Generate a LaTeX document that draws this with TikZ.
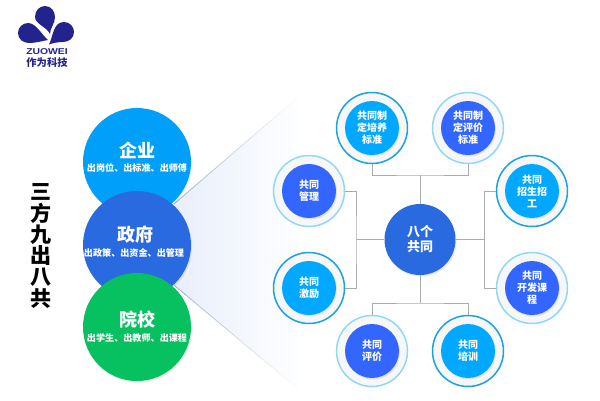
\documentclass[tikz,border=0pt]{standalone}
\usepackage{fontspec}
\usepackage{xcolor}
\usepackage{tikz}
\usetikzlibrary{shadows}
\setmainfont{Noto Sans CJK SC}
\newfontfamily\latinfont{Liberation Sans}
\definecolor{logoC}{HTML}{23238E}
\definecolor{firmC}{HTML}{00A0FA}
\definecolor{govC}{HTML}{2A6AE0}
\definecolor{schoolC}{HTML}{07C160}
\definecolor{skyC}{HTML}{00A8FF}
\definecolor{royalC}{HTML}{3366FF}
\definecolor{ringD}{HTML}{1BA1E6}
\definecolor{ringL}{HTML}{8FD8F8}
\definecolor{wedgeC}{HTML}{E8EEFC}
\definecolor{edgeC}{HTML}{98A6C0}
\definecolor{connC}{HTML}{ABABAB}
\newcommand{\fsize}[1]{\fontsize{#1}{#1}\selectfont}
\begin{document}
\begin{tikzpicture}[
  x=1pt, y=-1pt,
  softS/.style={drop shadow={opacity=0.18, shadow xshift=1pt, shadow yshift=-1.5pt}},
  bigC/.style={circle, minimum size=108pt, inner sep=0pt, softS},
  ringB/.style={circle, fill=black!3, line width=1.5pt, minimum size=71pt, inner sep=0pt},
  dotB/.style={circle, minimum size=54pt, inner sep=0pt, align=center, text=white, softS, font=\fsize{10}\linespread{1.2}\bfseries},
  conn/.style={draw=connC, line width=0.8pt},
  bigT/.style={text=white, font=\fsize{18}\bfseries, inner sep=0pt},
  subT/.style={text=white, font=\fsize{9.1}\bfseries, inner sep=0pt}
]
\useasboundingbox (0,0) rectangle (600,400);
% logo
\fill[logoC] (50,34) .. controls (47,27) and (35,24) .. (35,17) .. controls (35,10) and (40,6) .. (45,6) .. controls (51,6) and (55,11) .. (55,17) .. controls (55,24) and (50,28) .. (50,34);
\fill[logoC] (48,40) .. controls (42,35) and (36,23) .. (28,23) .. controls (22,23) and (18,28) .. (18,33) .. controls (18,39) and (23,43) .. (29,43) .. controls (36,43) and (42,41) .. (48,40);
\fill[logoC] (49,44.5) .. controls (53,37) and (53,22) .. (64,22) .. controls (70,22) and (74,27) .. (74,32) .. controls (74,38) and (69,42) .. (63,42) .. controls (58,42) and (53,43) .. (49,44.5);
\node[text=logoC, font=\latinfont\fsize{8.5}\bfseries, xscale=1.22, inner sep=0pt] (logoEn) at (47,52) {ZUOWEI};
\node[text=logoC, font=\fsize{10.3}\bfseries, inner sep=0pt] (logoCn) at (47,63) {作为科技};
% wedge, in strips
\foreach \x in {174,176,...,302}{
  \pgfmathsetmacro{\xb}{\x+3}
  \pgfmathsetmacro{\ya}{204-(\x-174)*0.86}
  \pgfmathsetmacro{\yb}{204-(\xb-174)*0.86}
  \pgfmathsetmacro{\yc}{285+(\xb-174)*0.837}
  \pgfmathsetmacro{\yd}{285+(\x-174)*0.837}
  \pgfmathsetmacro{\pw}{max(0,100-(\x-174)*0.78)}
  \pgfmathsetmacro{\pe}{max(0,85-(\x-174)*0.68)}
  \fill[wedgeC!\pw!white] (\x,\ya) -- (\xb,\yb) -- (\xb,\yc) -- (\x,\yd) -- cycle;
  \draw[edgeC!\pe!white, line width=0.8pt] (\x,\ya) -- (\xb,\yb);
  \draw[edgeC!\pe!white, line width=0.8pt] (\x,\yd) -- (\xb,\yc);
}
% title
\node[align=center, font=\fsize{21}\bfseries, inner sep=0pt, text=black] (title) at (41,246) {三\\[0.3pt]方\\[0.3pt]九\\[0.3pt]出\\[0.3pt]八\\[0.3pt]共};
% three parties
\node[bigC, fill=firmC] (firm) at (137,162) {};
\node[bigC, fill=govC] (gov) at (137,245) {};
\node[bigC, fill=schoolC] (school) at (137,327) {};
\node[bigT] (firmT) at (137,150) {企业};
\node[subT] (firmS) at (137,168) {出岗位、出标准、出师傅};
\node[bigT] (govT) at (135,235) {政府};
\node[subT] (govS) at (134,253) {出政策、出资金、出管理};
\node[bigT] (schoolT) at (137,320) {院校};
\node[subT] (schoolS) at (137,338) {出学生、出教师、出课程};
% rings
\node[ringB, draw=ringD] (r1) at (372,128) {};
\node[ringB, draw=ringL] (r2) at (468,128) {};
\node[ringB, draw=ringL] (r3) at (309,191) {};
\node[ringB, draw=ringD] (r4) at (532,191) {};
\node[ringB, draw=ringD] (r5) at (309,288) {};
\node[ringB, draw=ringL] (r6) at (532,288) {};
\node[ringB, draw=ringL] (r7) at (372,351) {};
\node[ringB, draw=ringD] (r8) at (468,351) {};
\node[dotB, fill=skyC] (d1) at (r1) {共同制\\定培养\\标准};
\node[dotB, fill=royalC] (d2) at (r2) {共同制\\定评价\\标准};
\node[dotB, fill=royalC] (d3) at (r3) {共同\\管理};
\node[dotB, fill=skyC] (d4) at (r4) {共同\\招生招\\工};
\node[dotB, fill=skyC] (d5) at (r5) {共同\\激励};
\node[dotB, fill=royalC] (d6) at (r6) {共同\\开发课\\程};
\node[dotB, fill=royalC] (d7) at (r7) {共同\\评价};
\node[dotB, fill=skyC] (d8) at (r8) {共同\\培训};
% hub
\node[circle, fill=govC, minimum size=71pt, inner sep=0pt, align=center, text=white, softS, font=\fsize{13}\linespread{1.15}\bfseries] (hub) at (420,239.5) {八个\\共同};
\coordinate (topJ) at (420,175);
\coordinate (botJ) at (420,303);
\coordinate (leftJ) at (356,239.5);
\coordinate (rightJ) at (484.5,239.5);
\draw[conn] (hub) -- (topJ);
\draw[conn] (hub) -- (botJ);
\draw[conn] (hub) -- (leftJ);
\draw[conn] (hub) -- (rightJ);
\draw[conn] (r1.south) |- (topJ) -| (r2.south);
\draw[conn] (r7.north) |- (botJ) -| (r8.north);
\draw[conn] (r3.east) -| (leftJ) |- (r5.east);
\draw[conn] (r4.west) -| (rightJ) |- (r6.west);
\end{tikzpicture}
\end{document}
